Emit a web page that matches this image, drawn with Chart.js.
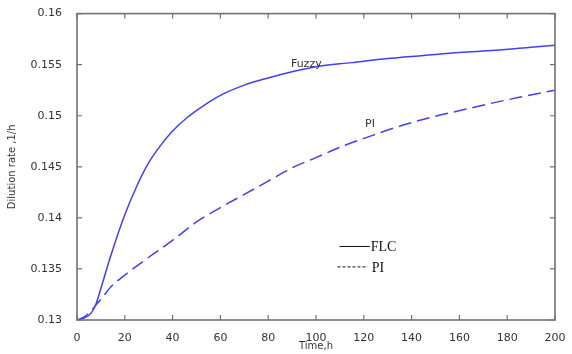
<!DOCTYPE html>
<html>
<head>
<meta charset="utf-8">
<script src="https://cdn.jsdelivr.net/npm/chart.js@4/dist/chart.umd.min.js"></script>
<style>
  html, body { margin: 0; padding: 0; background: #ffffff; }
  #wrap { width: 572px; height: 354px; }
</style>
</head>
<body>
<div id="wrap"><canvas id="c" width="572" height="354"></canvas></div>
<script>
// Dilution rate response (1/h) over time (h) for the fuzzy controller and the PI controller
const timeFuzzy = [0, 3, 6, 8, 10, 14, 20, 25, 30, 35, 40, 46, 53, 60, 70, 80, 90, 100, 115, 130, 145, 160, 175, 190, 200];
const rateFuzzy = [0.1300, 0.1302, 0.1307, 0.1316, 0.1331, 0.1362, 0.1403, 0.1431, 0.1454, 0.1471, 0.1485, 0.1498, 0.1510, 0.1520, 0.1530, 0.1537, 0.1543, 0.1548, 0.1552, 0.1556, 0.1559, 0.1562, 0.1564, 0.1567, 0.1569];

const timePI = [0, 3, 6, 8, 10, 14, 20, 28, 34, 40, 50, 60, 70, 80, 90, 100, 112, 124, 134, 149, 162, 173, 185, 200];
const ratePI = [0.1300, 0.1303, 0.1309, 0.1315, 0.1320, 0.1332, 0.1344, 0.1358, 0.1368, 0.1378, 0.1396, 0.1410, 0.1423, 0.1436, 0.1449, 0.1459, 0.1471, 0.1481, 0.1489, 0.1499, 0.1506, 0.1512, 0.1518, 0.1525];

const xTicks = [0, 20, 40, 60, 80, 100, 120, 140, 160, 180, 200];
const yTicks = [0.13, 0.135, 0.14, 0.145, 0.15, 0.155, 0.16];

const seriesNames = ['FLC', 'PI'];
const curveLabels = ['Fuzzy', 'PI'];

const toPoints = (xs, ys) => xs.map((x, i) => ({ x: x, y: ys[i] }));

const AXIS_COLOR = '#727272';
const LINE_COLOR = '#4040f4';
const TEXT_COLOR = '#333333';

// Box around the plot with inward tick marks on all four sides,
// curve annotations and the small legend inside the plot.
const boxPlugin = {
  id: 'boxTicks',
  afterDatasetsDraw(chart) {
    const { ctx, chartArea: a, scales } = chart;
    const xs = scales.x, ys = scales.y;
    const tl = 5;
    ctx.save();
    ctx.strokeStyle = AXIS_COLOR;
    ctx.lineWidth = 1.6;
    ctx.strokeRect(a.left, a.top, a.right - a.left, a.bottom - a.top);
    ctx.lineWidth = 1.2;
    ctx.beginPath();
    xTicks.forEach(v => {
      const px = xs.getPixelForValue(v);
      ctx.moveTo(px, a.bottom); ctx.lineTo(px, a.bottom - tl);
      ctx.moveTo(px, a.top); ctx.lineTo(px, a.top + tl);
    });
    yTicks.forEach(v => {
      const py = ys.getPixelForValue(v);
      ctx.moveTo(a.left, py); ctx.lineTo(a.left + tl, py);
      ctx.moveTo(a.right, py); ctx.lineTo(a.right - tl, py);
    });
    ctx.stroke();

    // curve annotations
    ctx.fillStyle = TEXT_COLOR;
    ctx.font = '11px "DejaVu Sans", sans-serif';
    ctx.textBaseline = 'middle';
    ctx.textAlign = 'left';
    ctx.fillText(curveLabels[0], xs.getPixelForValue(89.5), ys.getPixelForValue(0.1551));
    ctx.fillText(curveLabels[1], xs.getPixelForValue(120.5), ys.getPixelForValue(0.1492));

    // legend
    const lx0 = xs.getPixelForValue(109), lx1 = xs.getPixelForValue(122.5);
    const ly0 = ys.getPixelForValue(0.1372), ly1 = ys.getPixelForValue(0.1352);
    ctx.strokeStyle = '#111111';
    ctx.lineWidth = 1;
    ctx.beginPath();
    ctx.moveTo(lx0 + 2, ly0); ctx.lineTo(lx1, ly0);
    ctx.stroke();
    ctx.setLineDash([3, 2]);
    ctx.beginPath();
    ctx.moveTo(lx0, ly1); ctx.lineTo(lx1 - 2, ly1);
    ctx.stroke();
    ctx.setLineDash([]);
    ctx.fillStyle = '#111111';
    ctx.font = '14px "Liberation Serif", serif';
    ctx.fillText(seriesNames[0], lx1 + 1, ly0 + 1);
    ctx.fillText(seriesNames[1], lx1 + 2, ly1 + 1);
    ctx.restore();
  }
};

const fmt = v => String(parseFloat(Number(v).toFixed(3)));

new Chart(document.getElementById('c'), {
  type: 'line',
  data: {
    datasets: [
      {
        label: seriesNames[0],
        data: toPoints(timeFuzzy, rateFuzzy),
        borderColor: LINE_COLOR,
        borderWidth: 1.5,
        pointRadius: 0,
        cubicInterpolationMode: 'monotone',
        fill: false
      },
      {
        label: seriesNames[1],
        data: toPoints(timePI, ratePI),
        borderColor: LINE_COLOR,
        borderWidth: 1.5,
        borderDash: [13, 6],
        pointRadius: 0,
        cubicInterpolationMode: 'monotone',
        fill: false
      }
    ]
  },
  options: {
    responsive: false,
    animation: false,
    devicePixelRatio: 1,
    layout: { padding: { top: 13, right: 17, left: 0, bottom: 0 } },
    plugins: { legend: { display: false }, tooltip: { enabled: false } },
    scales: {
      x: {
        type: 'linear',
        min: 0, max: 200,
        afterBuildTicks: s => { s.ticks = xTicks.map(v => ({ value: v })); },
        afterFit: s => { s.height = 34; },
        grid: { display: false },
        border: { display: false },
        ticks: { color: TEXT_COLOR, font: { family: 'DejaVu Sans', size: 11 }, padding: 4, maxRotation: 0 },
        title: { display: true, text: 'Time,h', color: TEXT_COLOR, font: { family: 'DejaVu Sans', size: 10 }, padding: { top: 3, bottom: 2 } }
      },
      y: {
        type: 'linear',
        min: 0.13, max: 0.16,
        afterBuildTicks: s => { s.ticks = yTicks.map(v => ({ value: v })); },
        afterFit: s => { s.width = 77; },
        grid: { display: false },
        border: { display: false },
        ticks: { color: TEXT_COLOR, font: { family: 'DejaVu Sans', size: 11 }, padding: 7, callback: v => fmt(v) },
        title: { display: true, text: 'Dilution rate ,1/h', color: TEXT_COLOR, font: { family: 'DejaVu Sans', size: 10 }, padding: { top: 6, bottom: 0 } }
      }
    }
  },
  plugins: [boxPlugin]
});
</script>
</body>
</html>
